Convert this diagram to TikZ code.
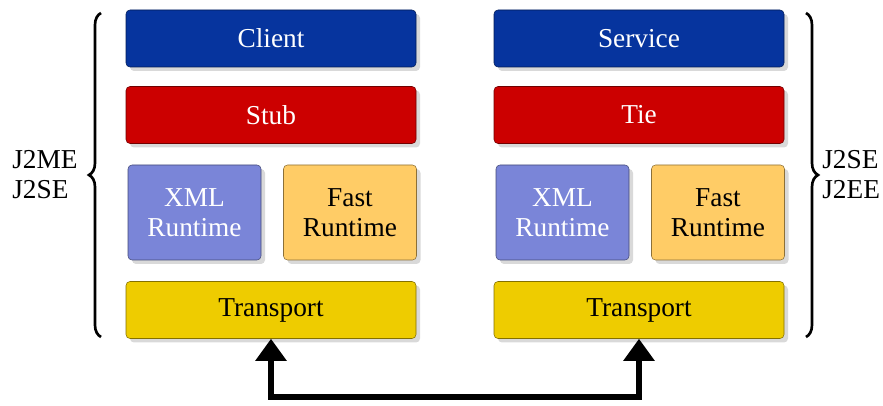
\documentclass[tikz,border=0pt]{standalone}
\usepackage{fontspec}
\setmainfont{Liberation Serif}
\usepackage{tikz}
\usetikzlibrary{arrows.meta, shadows, decorations.pathreplacing}

\definecolor{clientblue}{RGB}{6,52,158}
\definecolor{stubred}{RGB}{204,0,0}
\definecolor{xmlviolet}{RGB}{122,133,216}
\definecolor{fastorange}{RGB}{255,204,102}
\definecolor{transyellow}{RGB}{238,204,0}

\begin{document}
\begin{tikzpicture}[x=0.75pt,y=-0.75pt]
       \tikzstyle{layer} = [rectangle, rounded corners=3pt, text centered, font=\fontsize{20.5}{22.5}\selectfont,
                            drop shadow={shadow xshift=3pt, shadow yshift=-3pt, opacity=0.3}]
       \tikzstyle{wide} = [layer, minimum width=217.5pt, minimum height=42.75pt]
       \tikzstyle{half} = [layer, minimum width=99.75pt, minimum height=71.25pt, align=center]
       \tikzstyle{bus} = [line width=5pt, {Triangle[width=22.5pt, length=16.5pt]}-{Triangle[width=22.5pt, length=16.5pt]}]
       \tikzstyle{brace} = [line width=2pt, decorate, decoration={brace, amplitude=9pt}]
       \tikzstyle{side} = [font=\fontsize{20.5}{22.5}\selectfont, align=left, inner sep=0pt]
       \useasboundingbox (0,0) rectangle (883,406);

        \foreach \s/\x/\upper/\lower in {L/271/Client/Stub, R/639/Service/Tie}
        {
          \path[] node[wide, fill=clientblue, draw=clientblue!55!black, text=white] (top-\s) at (\x,38.5) {\upper};
          \path[] node[wide, fill=stubred, draw=stubred!55!black, text=white] (mid-\s) at (\x,115) {\lower};
          \path[] node[half, fill=xmlviolet, draw=xmlviolet!55!black, text=white] (xml-\s) at (\x-76.5,212.5) {XML\\Runtime};
          \path[] node[half, fill=fastorange, draw=fastorange!55!black] (fast-\s) at (\x+79,212.5) {Fast\\Runtime};
          \path[] node[wide, fill=transyellow, draw=transyellow!55!black] (transport-\s) at (\x,310) {Transport};
        }

       \coordinate (wire) at (455,397);
       \draw [bus] (transport-L.south) |- (wire) -| (transport-R.south);

       \coordinate (brace-L-top) at (101,13);
       \coordinate (brace-L-bottom) at (101,337);
       \coordinate (brace-R-top) at (806,13);
       \coordinate (brace-R-bottom) at (806,337);
       \draw [brace] (brace-L-bottom) -- (brace-L-top);
       \draw [brace] (brace-R-top) -- (brace-R-bottom);
       \node (side-L) [side, anchor=west] at (12,175) {J2ME\\J2SE};
       \node (side-R) [side, anchor=west] at (822,175) {J2SE\\J2EE};
\end{tikzpicture}
\end{document}
